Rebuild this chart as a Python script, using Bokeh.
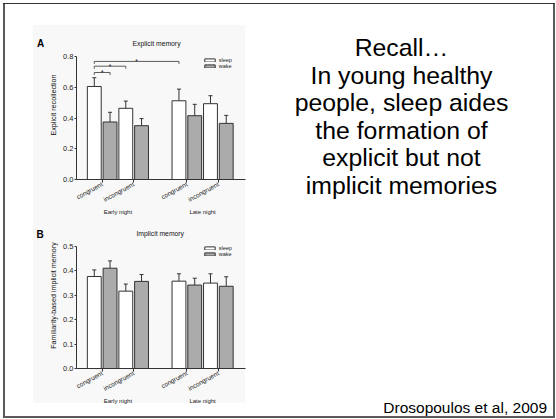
from bokeh.plotting import figure
from bokeh.models import (Range1d, FixedTicker, LinearAxis, ColumnDataSource, Whisker,
                          TeeHead, Legend, LegendItem, PrintfTickFormatter)
from bokeh.layouts import row, column
from bokeh.core.properties import value
from bokeh.embed import file_html
from bokeh.resources import INLINE

# ---------------- data ----------------
groups = ["Early night", "Late night"]
conditions = ["congruent", "incongruent"]
states = ["sleep", "wake"]

# order of cells: early-congruent, early-incongruent, late-congruent, late-incongruent
explicit_sleep = [0.605, 0.463, 0.512, 0.493]
explicit_sleep_sem = [0.057, 0.047, 0.076, 0.052]
explicit_wake = [0.374, 0.350, 0.415, 0.365]
explicit_wake_sem = [0.063, 0.046, 0.074, 0.052]

implicit_sleep = [0.377, 0.317, 0.358, 0.350]
implicit_sleep_sem = [0.027, 0.029, 0.030, 0.038]
implicit_wake = [0.411, 0.357, 0.342, 0.337]
implicit_wake_sem = [0.030, 0.028, 0.028, 0.039]

explicit_ticks = [0.0, 0.2, 0.4, 0.6, 0.8]
implicit_ticks = [0.0, 0.1, 0.2, 0.3, 0.4, 0.5]

# significance brackets (explicit memory): from bar -> to bar
sig_from_cell = [0, 0, 0]
sig_from_state = [0, 0, 0]
sig_to_cell = [0, 1, 2]
sig_to_state = [1, 0, 0]
sig_height = [0.696, 0.737, 0.768]
sig_mark = ["*", "*", "*"]

panel_letters = ["A", "B"]
panel_titles = ["Explicit memory", "Implicit memory"]
slide_lines = ["Recall\u2026", "In young healthy", "people, sleep aides",
               "the formation of", "explicit but not", "implicit memories"]
citation = "Drosopoulos et al, 2009"

# ---------------- style / layout ----------------
FONT = "Liberation Sans"
EDGE = "#333333"
GRAY = "#ababab"
GROUP_STEP = 5.375
COND_STEP = 2.0
BAR_W = 0.88
X_START, X_END = -1.129, 9.598
TOTAL_W, TOTAL_H = 555, 418
LET_W = 46
PANEL_W = 214
FRAME_L, FRAME_R = 74, 245          # page x of the plotting frame


def bar_x(cell, state):
    g, c = divmod(cell, 2)
    return g * GROUP_STEP + c * COND_STEP + state


def make_panel(sleep, sleep_sem, wake, wake_sem, yticks, title, ylabel,
               top, height, frame_top, axis_top_px, axis_zero_px, legend_bottom,
               title_px, brackets=False):
    ymax = yticks[-1]
    px_per_y = (axis_zero_px - axis_top_px) / ymax
    y_end = (axis_zero_px - frame_top) / px_per_y
    p = figure(width=PANEL_W, height=height,
               x_range=Range1d(X_START, X_END), y_range=Range1d(0, y_end),
               output_backend="svg", toolbar_location=None,
               x_axis_type=None, y_axis_type=None,
               min_border_left=FRAME_L - LET_W, min_border_right=LET_W + PANEL_W - FRAME_R,
               min_border_top=frame_top - top,
               min_border_bottom=top + height - axis_zero_px,
               outline_line_color=None, border_fill_color=None,
               background_fill_color=None)
    cells = list(range(4))
    src_s = ColumnDataSource(dict(x=[bar_x(k, 0) for k in cells], top=sleep,
                                  upper=[v + e for v, e in zip(sleep, sleep_sem)]))
    src_w = ColumnDataSource(dict(x=[bar_x(k, 1) for k in cells], top=wake,
                                  upper=[v + e for v, e in zip(wake, wake_sem)]))
    for src in (src_s, src_w):
        p.add_layout(Whisker(source=src, base="x", lower="top", upper="upper",
                             dimension="height", line_color=EDGE, line_width=1,
                             upper_head=TeeHead(size=4, line_color=EDGE, line_width=1),
                             lower_head=None))
    r_s = p.vbar(x="x", top="top", bottom=0, width=BAR_W, source=src_s,
                 fill_color="white", line_color=EDGE, line_width=1)
    r_w = p.vbar(x="x", top="top", bottom=0, width=BAR_W, source=src_w,
                 fill_color=GRAY, line_color=EDGE, line_width=1)

    yax = LinearAxis(ticker=FixedTicker(ticks=yticks), bounds=(0, ymax),
                     formatter=PrintfTickFormatter(format="%.1f"),
                     axis_label=ylabel, axis_label_standoff=2,
                     axis_label_text_font=FONT, axis_label_text_font_size="7.2px",
                     axis_label_text_font_style="normal", axis_label_text_color="#111",
                     axis_line_color=EDGE, major_tick_line_color=EDGE,
                     major_tick_in=0, major_tick_out=2, major_label_standoff=1,
                     major_label_text_font=FONT, major_label_text_font_size="7.5px",
                     major_label_text_color="#222")
    p.add_layout(yax, "left")

    pair_centers = [bar_x(k, 0) + 0.5 for k in cells]
    xax = LinearAxis(ticker=FixedTicker(ticks=pair_centers),
                     major_label_overrides={pc: conditions[k % 2]
                                            for k, pc in enumerate(pair_centers)},
                     major_label_orientation=0.5,
                     axis_line_color=EDGE, major_tick_line_color=EDGE,
                     major_tick_in=0, major_tick_out=3, major_label_standoff=1,
                     major_label_text_font=FONT, major_label_text_font_size="6.5px",
                     major_label_text_color="#222")
    p.add_layout(xax, "below")
    group_centers = [(bar_x(2 * g, 0) + bar_x(2 * g + 1, 1)) / 2 for g in range(2)]
    gax = LinearAxis(ticker=FixedTicker(ticks=group_centers),
                     major_label_overrides={gc: groups[g]
                                            for g, gc in enumerate(group_centers)},
                     axis_line_color=None, major_tick_line_color=None,
                     major_tick_in=0, major_tick_out=0, major_label_standoff=0,
                     major_label_text_font=FONT, major_label_text_font_size="6px",
                     major_label_text_color="#222")
    p.add_layout(gax, "below")

    legend = Legend(items=[LegendItem(label=states[0], renderers=[r_s]),
                           LegendItem(label=states[1], renderers=[r_w])],
                    location=(126.7, legend_bottom), padding=0, margin=0, spacing=0,
                    glyph_width=13, glyph_height=4, label_height=6, label_standoff=3,
                    label_text_font=FONT, label_text_font_size="5.5px",
                    label_text_color="#222", border_line_color=None,
                    background_fill_alpha=0)
    p.add_layout(legend)

    px_per_x = (FRAME_R - FRAME_L) / (X_END - X_START)
    tx = X_START + (title_px[0] - FRAME_L) / px_per_x
    ty = (axis_zero_px - title_px[1]) / px_per_y
    p.text(x=[tx], y=[ty], text=[title], text_align="center", text_baseline="middle",
           text_font=value(FONT), text_font_size="6.8px", text_color="#111")

    if brackets:
        drop = 2.5 / px_per_y
        xs, ys, sx, sy = [], [], [], []
        for fc, fs, tc, ts, h in zip(sig_from_cell, sig_from_state, sig_to_cell,
                                     sig_to_state, sig_height):
            x0, x1 = bar_x(fc, fs), bar_x(tc, ts)
            xs.append([x0, x0, x1, x1])
            ys.append([h - drop, h, h, h - drop])
            sx.append((x0 + x1) / 2)
            sy.append(h)
        p.multi_line(xs=xs, ys=ys, line_color=EDGE, line_width=0.8)
        p.text(x=sx, y=sy, text=sig_mark, text_align="center",
               text_baseline="middle", text_font=value(FONT),
               text_font_size="6.5px", text_color="#111")
    return p


pA = make_panel(explicit_sleep, explicit_sleep_sem, explicit_wake, explicit_wake_sem,
                explicit_ticks, panel_titles[0], "Explicit recollection",
                top=0, height=218, frame_top=30, axis_top_px=56, axis_zero_px=179,
                legend_bottom=110.1, title_px=(155, 42.7), brackets=True)
pB = make_panel(implicit_sleep, implicit_sleep_sem, implicit_wake, implicit_wake_sem,
                implicit_ticks, panel_titles[1], "Familiarity-based implicit memory",
                top=218, height=TOTAL_H - 218, frame_top=222, axis_top_px=246,
                axis_zero_px=368, legend_bottom=110.8, title_px=(158.7, 233.3))


def blank_fig(w, h):
    f = figure(width=w, height=h, x_range=Range1d(0, w), y_range=Range1d(h, 0),
               output_backend="svg", toolbar_location=None,
               x_axis_type=None, y_axis_type=None, min_border=0,
               outline_line_color=None, border_fill_color=None,
               background_fill_color=None)
    return f


# panel letters (left strip), page coordinates
pl = blank_fig(LET_W, TOTAL_H)
pl.text(x=[40, 39.5], y=[43.3, 234], text=panel_letters, text_align="center",
        text_baseline="middle", text_font=value(FONT), text_font_size="10px",
        text_font_style="bold", text_color="#000")

# slide text (right area)
TX0 = LET_W + PANEL_W
pt = blank_fig(TOTAL_W - TX0, TOTAL_H)
line_y = [47 + 27.5 * i for i in range(len(slide_lines))]
pt.text(x=[401 - TX0] * len(slide_lines), y=line_y, text=slide_lines,
        text_align="center", text_baseline="middle", text_font=value(FONT),
        text_font_size="24.8px", text_color="#000")
pt.text(x=[546.5 - TX0], y=[407.0], text=[citation], text_align="right",
        text_baseline="middle", text_font=value(FONT),
        text_font_size="15.5px", text_color="#000")

bg = ", ".join([
    "linear-gradient(#333,#333) 3px 3px / 552px 1px no-repeat",
    "linear-gradient(#5a5a5a,#5a5a5a) 3px 3px / 2px 415px no-repeat",
    "linear-gradient(#5a5a5a,#5a5a5a) 553px 3px / 2px 415px no-repeat",
    "linear-gradient(#5a5a5a,#5a5a5a) 3px 416px / 552px 2px no-repeat",
    "linear-gradient(#f8f8f8,#f8f8f8) 33px 25px / 212px 378px no-repeat",
    "#ffffff",
])

layout = row(pl, column(pA, pB), pt, styles={"background": bg})

open("out.html", "w").write(file_html(layout, INLINE))
